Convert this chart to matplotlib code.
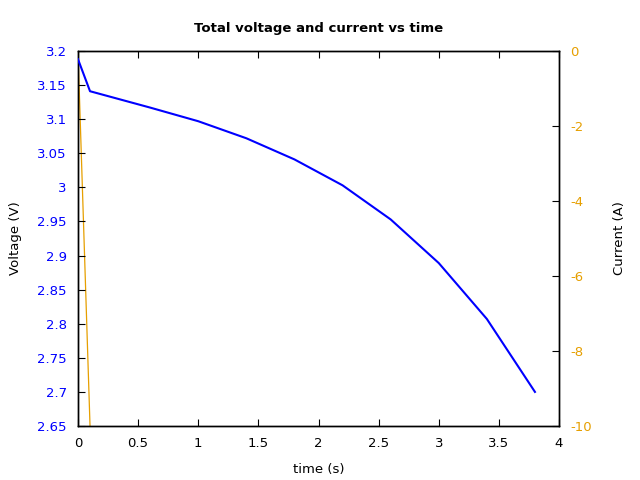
import matplotlib
matplotlib.use('Agg')
import matplotlib.pyplot as plt
from matplotlib.ticker import FormatStrFormatter, MultipleLocator

# voltage
time_v = [0.0, 0.1, 0.6, 1.0, 1.4, 1.8, 2.2, 2.6, 3.0, 3.4, 3.8]
voltage = [3.188, 3.141, 3.117, 3.097, 3.072, 3.041, 3.003, 2.953, 2.889, 2.807, 2.700]

# current drops off the bottom of the axis almost at once
time_i = [0.0, 0.1]
current = [0.0, -10.0]

blue = '#0000ff'
orange = '#e69f00'
fs = 9.5

fig = plt.figure(figsize=(6.4, 4.8), dpi=100)
ax = fig.add_axes([78/640, 1 - 426/480, (559-78)/640, (426-51)/480])
ax2 = ax.twinx()

ax.plot(time_v, voltage, color=blue, linewidth=1.5, zorder=3)
ax2.plot(time_i, current, color=orange, linewidth=0.9)
ax.set_zorder(ax2.get_zorder() + 1)
ax.patch.set_visible(False)

ax.set_xlim(0, 4)
ax.set_ylim(2.65, 3.2)
ax2.set_ylim(-10, 0)

ax.xaxis.set_major_locator(MultipleLocator(0.5))
ax.yaxis.set_major_locator(MultipleLocator(0.05))
ax2.yaxis.set_major_locator(MultipleLocator(2))
ax.xaxis.set_major_formatter(FormatStrFormatter('%g'))
ax.yaxis.set_major_formatter(FormatStrFormatter('%g'))
ax2.yaxis.set_major_formatter(FormatStrFormatter('%g'))

ax.tick_params(axis='x', direction='in', top=True, length=5, pad=8, labelsize=fs)
ax.tick_params(axis='y', direction='in', right=False, length=5, pad=8,
               labelsize=fs, labelcolor=blue)
ax2.tick_params(axis='y', direction='in', length=5, pad=8,
                labelsize=fs, labelcolor=orange)

for a in (ax, ax2):
    for s in a.spines.values():
        s.set_linewidth(1.0)

ax.set_xlabel('time (s)', fontsize=fs, labelpad=9)
ax.set_ylabel('Voltage (V)', fontsize=fs, labelpad=11)
ax2.set_ylabel('Current (A)', fontsize=fs, labelpad=15)
ax.set_title('Total voltage and current vs time', fontsize=fs, fontweight='bold', pad=14)

fig.savefig('out.png', dpi=100)
